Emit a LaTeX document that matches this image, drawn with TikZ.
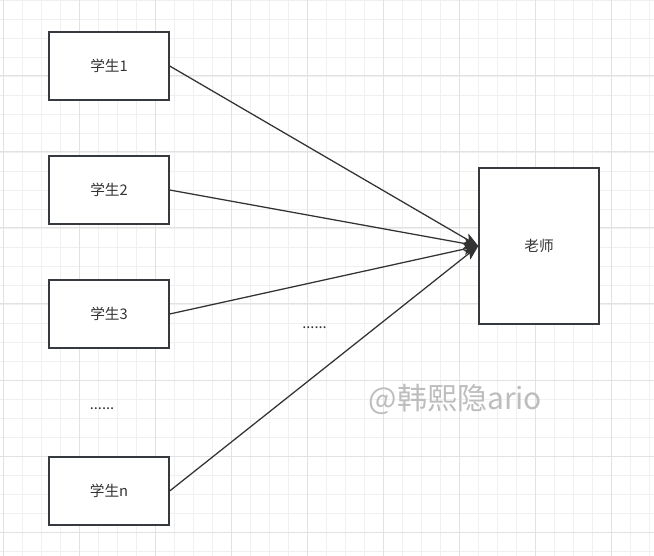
\documentclass[tikz,border=0pt]{standalone}
\usepackage{fontspec}
\setmainfont{Noto Sans CJK SC}
\usetikzlibrary{arrows.meta, positioning, calc}
\definecolor{ink}{HTML}{333333}
\definecolor{boxline}{HTML}{36393D}
\definecolor{gridminor}{HTML}{F0F0F0}
\definecolor{gridmajor}{HTML}{E2E2E2}

\begin{document}
\begin{tikzpicture}[
  x=0.75pt, y=-0.75pt,
  >={Stealth[length=11pt, width=8.5pt, inset=2.5pt]},
  minorline/.style={draw=gridminor, line width=0.6pt},
  majorline/.style={draw=gridmajor, line width=0.75pt},
  stu/.style={draw=boxline, line width=1pt, fill=white, minimum width=90pt, minimum height=51pt, inner sep=0pt, text=ink, font=\fontsize{11pt}{13pt}\selectfont},
  tea/.style={stu, minimum height=117pt},
  arr/.style={->, draw=ink, line width=0.95pt},
  dots/.style={text=ink, font=\fontsize{11pt}{13pt}\selectfont, inner sep=0pt, anchor=base}
  ]
  % page and grid
  \useasboundingbox (0,0) rectangle (654,556);
  \fill[white] (0,0) rectangle (654,556);
  \foreach \gx in {3,22,...,649} \draw[minorline] (\gx,0) -- (\gx,556);
  \foreach \gy in {0,19,...,551} \draw[minorline] (0,\gy) -- (654,\gy);
  \foreach \gx in {3,79,...,611} \draw[majorline] (\gx,0) -- (\gx,556);
  \foreach \gy in {0,76,...,532} \draw[majorline] (0,\gy) -- (654,\gy);

  % students and teacher
  \node[stu] (s1) at (109, 66) {学生1};
  \node[stu] (s2) at (109,190) {学生2};
  \node[stu] (s3) at (109,314) {学生3};
  \node[dots] (sdots) at (102,409) {......};
  \node[stu] (sn) at (109,491) {学生n};
  \node[tea] (t) at (539,246) {老师};
  \node[dots] (adots) at (314.5,329) {......};

  \draw[arr] (s1.east) -- (t.west);
  \draw[arr] (s2.east) -- (t.west);
  \draw[arr] (s3.east) -- (t.west);
  \draw[arr] (sn.east) -- (t.west);

  % watermark
  \node[text=black!26, font=\fontsize{22.5pt}{25pt}\selectfont, inner sep=0pt] (mark) at (455.5,399) {@韩熙隐ario};
\end{tikzpicture}
\end{document}
